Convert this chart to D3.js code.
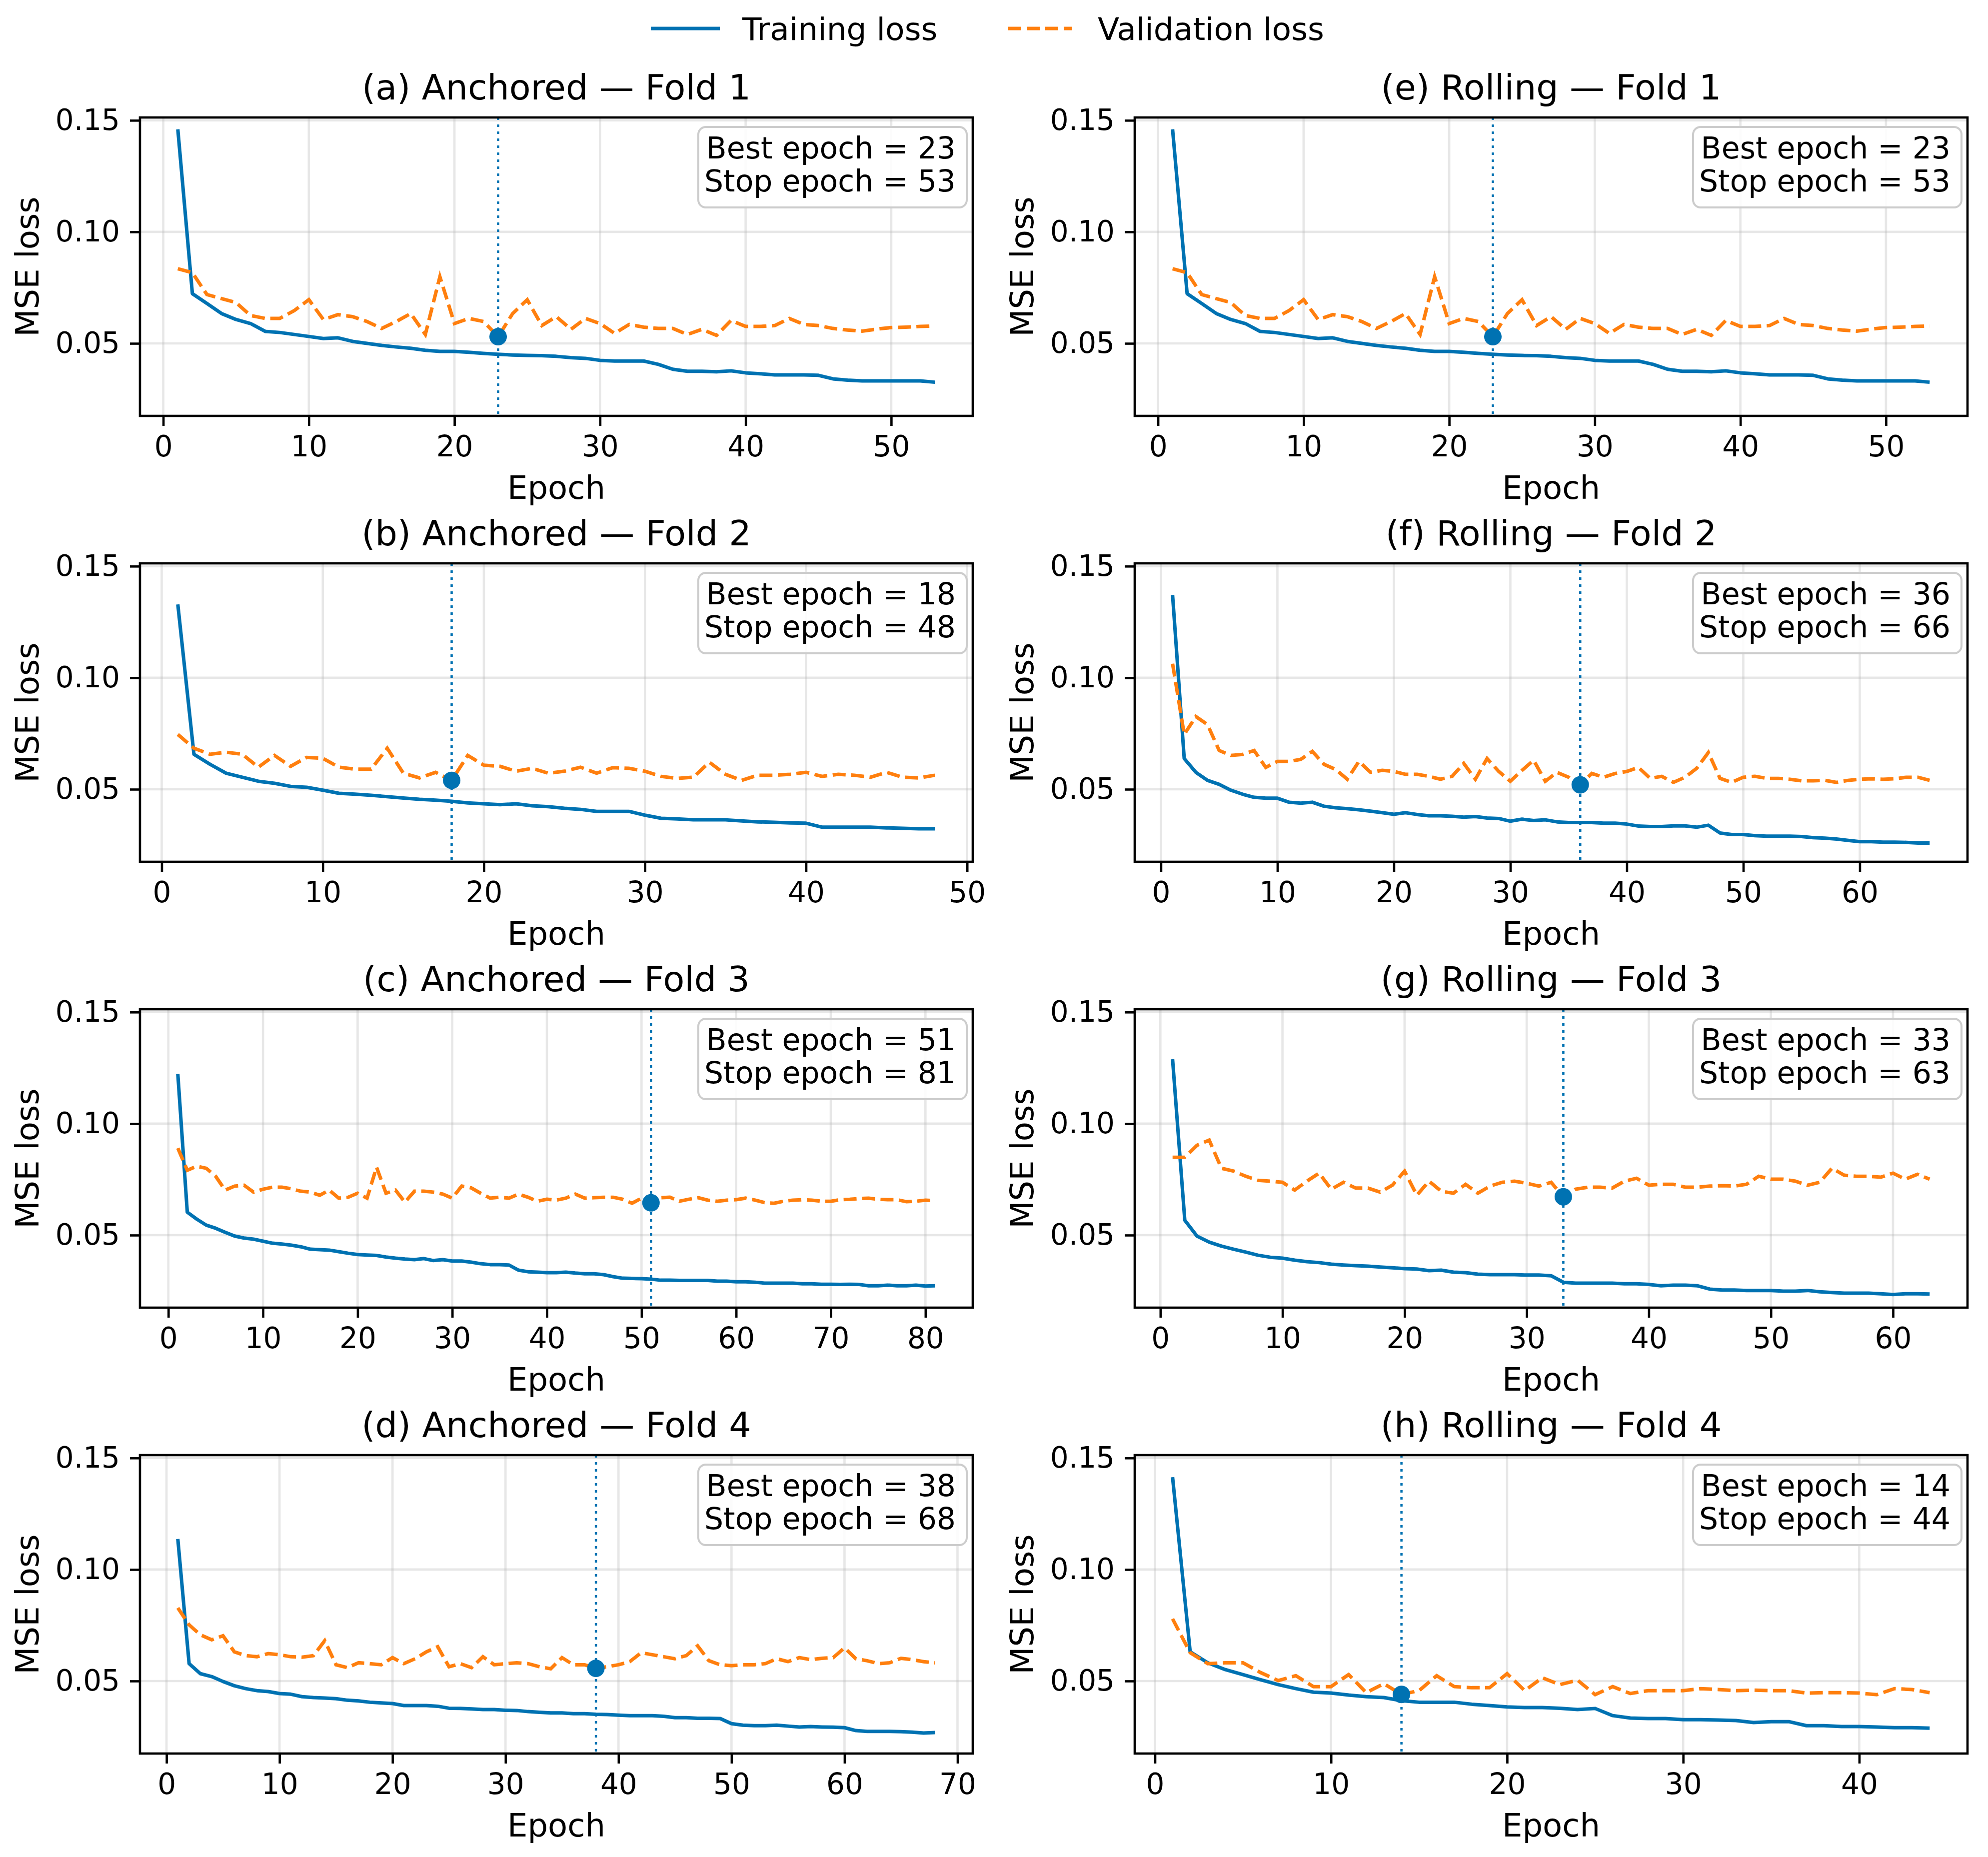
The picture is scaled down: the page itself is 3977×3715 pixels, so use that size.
<!DOCTYPE html>
<html>
<head>
<meta charset="utf-8">
<script src="https://cdn.jsdelivr.net/npm/d3@7"></script>
<style>
  body { margin: 0; background: #fff; }
  text { font-family: "DejaVu Sans", sans-serif; fill: #000; }
</style>
</head>
<body>
<div id="chart"></div>
<script>
// loss curves, one value per epoch starting at epoch 1
const trainA = [0.146,0.0723,0.0679,0.0634,0.0607,0.0589,0.0554,0.0549,0.054,0.0531,
  0.0522,0.0525,0.0509,0.05,0.0491,0.0484,0.0478,0.0469,0.0464,0.0464,
  0.046,0.0455,0.0451,0.0448,0.0446,0.0445,0.0442,0.0436,0.0433,0.0424,
  0.0421,0.0421,0.0421,0.0406,0.0384,0.0375,0.0375,0.0373,0.0377,0.0368,
  0.0364,0.0359,0.0359,0.0359,0.0357,0.0341,0.0335,0.0332,0.0332,0.0332,
  0.0332,0.0332,0.0326]
const valA = [0.0835,0.0817,0.0719,0.0701,0.0683,0.0625,0.0612,0.0612,0.0647,0.0696,
  0.0607,0.0629,0.062,0.0598,0.0567,0.0598,0.0634,0.054,0.0799,0.0589,
  0.0612,0.0598,0.053,0.0634,0.0696,0.058,0.062,0.0563,0.0612,0.0589,
  0.0545,0.0585,0.0573,0.0567,0.0567,0.054,0.0563,0.0536,0.0603,0.0576,
  0.0576,0.058,0.0612,0.0585,0.058,0.0567,0.056,0.0555,0.0564,0.0571,
  0.0573,0.0576,0.0578]

const trainB = [0.1329,0.0657,0.0612,0.0572,0.0554,0.0536,0.0527,0.0513,0.0509,0.0496,
  0.0482,0.0478,0.0473,0.0467,0.0461,0.0455,0.0451,0.0446,0.0439,0.0435,
  0.0431,0.0435,0.0426,0.0422,0.0415,0.041,0.0401,0.0401,0.0401,0.0384,
  0.037,0.0367,0.0363,0.0363,0.0363,0.0358,0.0354,0.0352,0.0349,0.0348,
  0.033,0.033,0.033,0.033,0.0327,0.0325,0.0323,0.0323]
const valB = [0.0746,0.0684,0.0657,0.0666,0.0657,0.0599,0.0652,0.0603,0.0643,0.0639,
  0.0599,0.059,0.059,0.0684,0.0572,0.0551,0.0576,0.054,0.0652,0.0608,
  0.0603,0.0581,0.0594,0.0572,0.0581,0.0599,0.0572,0.0597,0.0594,0.0581,
  0.0558,0.0549,0.0554,0.0621,0.0567,0.054,0.0563,0.0563,0.0567,0.0576,
  0.0558,0.0567,0.0563,0.0554,0.0576,0.0554,0.0551,0.0563]

const trainC = [0.1223,0.0603,0.0572,0.0545,0.0531,0.0513,0.0496,0.0487,0.0482,0.0473,
  0.0464,0.046,0.0455,0.0448,0.0437,0.0435,0.0433,0.0426,0.0419,0.0413,
  0.0411,0.0409,0.0402,0.0397,0.0393,0.039,0.0395,0.0386,0.039,0.0384,
  0.0384,0.0379,0.0372,0.0368,0.0368,0.0366,0.0343,0.0336,0.0334,0.0332,
  0.0332,0.0334,0.033,0.0327,0.0327,0.0323,0.0314,0.0307,0.0306,0.0305,
  0.0303,0.0298,0.0298,0.0297,0.0297,0.0297,0.0297,0.0294,0.0294,0.0291,
  0.0291,0.0289,0.0285,0.0285,0.0285,0.0285,0.0282,0.0282,0.028,0.028,
  0.0279,0.028,0.0279,0.0273,0.0273,0.0276,0.0273,0.0273,0.0276,0.0272,0.0273]
const valC = [0.089,0.0791,0.0809,0.08,0.0764,0.0702,0.072,0.0724,0.0693,0.0706,
  0.0715,0.0715,0.0708,0.0697,0.0693,0.0679,0.0702,0.0666,0.067,0.0688,
  0.0666,0.0805,0.0688,0.0702,0.0648,0.0697,0.0697,0.0693,0.0684,0.0666,
  0.072,0.0712,0.0688,0.0666,0.067,0.0666,0.0684,0.067,0.0652,0.0661,
  0.0657,0.0666,0.0684,0.0666,0.0668,0.067,0.067,0.0661,0.0643,0.0666,
  0.0645,0.0668,0.067,0.0652,0.0661,0.0668,0.0657,0.0652,0.0657,0.0659,
  0.0666,0.0657,0.0646,0.0643,0.0652,0.0657,0.0659,0.0657,0.0652,0.0652,
  0.0659,0.0661,0.0664,0.0666,0.0661,0.0659,0.0659,0.065,0.0652,0.0657,0.0655]

const trainD = [0.1137,0.0578,0.0533,0.052,0.0498,0.0479,0.0466,0.0457,0.0453,0.0444,
  0.0441,0.043,0.0426,0.0424,0.0421,0.0414,0.0411,0.0405,0.0402,0.0399,
  0.039,0.039,0.039,0.0387,0.0378,0.0377,0.0375,0.0372,0.0372,0.0369,
  0.0368,0.0363,0.036,0.0357,0.0357,0.0354,0.0354,0.0351,0.035,0.0347,
  0.0345,0.0345,0.0345,0.0342,0.0336,0.0336,0.0333,0.0333,0.0332,0.0309,
  0.0302,0.03,0.03,0.0302,0.0298,0.0294,0.0296,0.0294,0.0293,0.0291,
  0.0278,0.0274,0.0274,0.0274,0.0273,0.0271,0.0267,0.0269]
const valD = [0.0828,0.0752,0.0707,0.0685,0.0703,0.0631,0.0614,0.0609,0.0623,0.0618,
  0.0609,0.0607,0.0614,0.0681,0.0573,0.056,0.0582,0.0578,0.0573,0.0605,
  0.0578,0.06,0.0631,0.0654,0.0564,0.0578,0.056,0.0609,0.0573,0.0578,
  0.0582,0.0578,0.0564,0.0555,0.0605,0.0573,0.0573,0.0557,0.0564,0.0573,
  0.0587,0.0627,0.0618,0.0609,0.06,0.0614,0.0658,0.0591,0.0573,0.0569,
  0.0573,0.0573,0.0578,0.06,0.0587,0.0605,0.0596,0.0602,0.0605,0.0649,
  0.06,0.0591,0.0578,0.0582,0.0602,0.0596,0.0587,0.0582]

const trainF = [0.1371,0.0638,0.0576,0.054,0.0522,0.0496,0.0478,0.0464,0.046,0.046,
  0.0442,0.0438,0.0442,0.0424,0.0417,0.0413,0.0408,0.0402,0.0395,0.0388,
  0.0395,0.0387,0.0381,0.0381,0.0379,0.0375,0.0378,0.0371,0.0369,0.0357,
  0.0366,0.036,0.0363,0.0354,0.0351,0.0351,0.0351,0.0348,0.0348,0.0344,
  0.0335,0.0333,0.0333,0.0336,0.0336,0.033,0.0339,0.0304,0.0297,0.0297,
  0.0292,0.029,0.029,0.029,0.0288,0.0283,0.0281,0.0277,0.0271,0.0265,
  0.0265,0.0263,0.0263,0.0262,0.0259,0.0259]
const valF = [0.1063,0.0746,0.0826,0.079,0.0674,0.0652,0.0656,0.0674,0.0598,0.0625,
  0.0625,0.0634,0.067,0.0612,0.0589,0.0545,0.0625,0.0576,0.0585,0.058,
  0.0567,0.0567,0.0558,0.0545,0.0558,0.0616,0.0545,0.0638,0.058,0.0536,
  0.0585,0.063,0.0536,0.0576,0.0554,0.052,0.0571,0.0554,0.0571,0.058,
  0.0598,0.0549,0.0558,0.0531,0.0554,0.0594,0.0665,0.0549,0.0531,0.0554,
  0.0558,0.0549,0.0549,0.0545,0.0538,0.0538,0.054,0.0531,0.054,0.0545,
  0.0547,0.0545,0.0547,0.0554,0.0554,0.054]

const trainG = [0.1289,0.0567,0.0496,0.0469,0.0451,0.0437,0.0424,0.041,0.0401,0.0397,
  0.0388,0.0381,0.0377,0.037,0.0366,0.0363,0.0361,0.0357,0.0354,0.035,
  0.0348,0.0341,0.0343,0.0334,0.0332,0.0325,0.0323,0.0323,0.0323,0.0321,
  0.0321,0.0318,0.0289,0.0285,0.0285,0.0285,0.0285,0.0282,0.0282,0.0279,
  0.0273,0.0276,0.0276,0.0273,0.0258,0.0254,0.0254,0.0252,0.0252,0.0252,
  0.0249,0.0249,0.0252,0.0246,0.0243,0.024,0.024,0.024,0.0237,0.0234,
  0.0237,0.0237,0.0236]
const valG = [0.0849,0.0849,0.0903,0.0926,0.08,0.0787,0.0764,0.0746,0.0742,0.0737,
  0.0702,0.0742,0.0778,0.0706,0.0737,0.0711,0.0711,0.0693,0.0724,0.0787,
  0.0679,0.0742,0.0697,0.0688,0.0728,0.0688,0.072,0.0737,0.0742,0.0733,
  0.072,0.0737,0.0672,0.0706,0.0715,0.0715,0.0711,0.0742,0.0755,0.0724,
  0.0728,0.0728,0.0715,0.0715,0.072,0.0722,0.072,0.0728,0.0764,0.0751,
  0.0751,0.0742,0.0724,0.0737,0.08,0.0769,0.0764,0.0764,0.076,0.0778,
  0.0751,0.0773,0.0751]

const trainH = [0.1414,0.0631,0.0582,0.0551,0.0529,0.0506,0.0484,0.0466,0.045,0.0446,
  0.0437,0.043,0.0426,0.0412,0.0405,0.0405,0.0405,0.0396,0.039,0.0384,
  0.0381,0.0381,0.0378,0.0372,0.0377,0.0345,0.0334,0.0332,0.0332,0.0327,
  0.0327,0.0325,0.0323,0.0314,0.0318,0.0318,0.03,0.03,0.0296,0.0296,
  0.0294,0.0291,0.0291,0.0289]
const valH = [0.0779,0.0627,0.0578,0.0582,0.0582,0.0538,0.0502,0.0524,0.0475,0.0475,
  0.0529,0.0448,0.0488,0.044,0.0457,0.0524,0.0475,0.047,0.047,0.0533,
  0.0457,0.0515,0.0484,0.0504,0.0439,0.0475,0.0444,0.0457,0.0457,0.0457,
  0.0466,0.0462,0.0457,0.0459,0.0457,0.0457,0.0446,0.0448,0.0448,0.0446,
  0.0439,0.0466,0.0462,0.0448]

// panel titles, best / stop epochs and x tick labels
const titles = ['(a) Anchored \u2014 Fold 1', '(b) Anchored \u2014 Fold 2', '(c) Anchored \u2014 Fold 3', '(d) Anchored \u2014 Fold 4',
  '(e) Rolling \u2014 Fold 1', '(f) Rolling \u2014 Fold 2', '(g) Rolling \u2014 Fold 3', '(h) Rolling \u2014 Fold 4']
const bestEpochs = [23, 18, 51, 38, 23, 36, 33, 14]
const stopEpochs = [53, 48, 81, 68, 53, 66, 63, 44]
const xTicks = [
  [0, 10, 20, 30, 40, 50], [0, 10, 20, 30, 40, 50], [0, 10, 20, 30, 40, 50, 60, 70, 80], [0, 10, 20, 30, 40, 50, 60, 70],
  [0, 10, 20, 30, 40, 50], [0, 10, 20, 30, 40, 50, 60], [0, 10, 20, 30, 40, 50, 60], [0, 10, 20, 30, 40]
]
const yTicks = [0.05, 0.10, 0.15]
const seriesNames = ['Training loss', 'Validation loss']

const trainSeries = [trainA, trainB, trainC, trainD, trainA, trainF, trainG, trainH]
const valSeries = [valA, valB, valC, valD, valA, valF, valG, valH]

const blue = '#0072b2'
const orange = '#ff7f0e'
const dash = '26,11'

const width = 3977
const height = 3715

// grid of axes: two columns, four rows
const colLeft = [280, 2270]
const rowTop = [235, 1127, 2019, 2911]
const axW = 1666
const axH = 597
const yDomain = [0.0175, 0.1513]

const svg = d3.select('#chart')
  .append('svg')
  .attr('width', width)
  .attr('height', height)

svg.append('rect')
  .attr('width', width)
  .attr('height', height)
  .attr('fill', '#fff')

// figure legend on top
const legend = svg.append('g')
legend.append('line')
  .attr('x1', 1302).attr('x2', 1440).attr('y1', 57).attr('y2', 57)
  .attr('stroke', blue).attr('stroke-width', 7)
legend.append('text')
  .attr('x', 1485).attr('y', 80)
  .attr('font-size', 63)
  .text(seriesNames[0])
legend.append('line')
  .attr('x1', 2017).attr('x2', 2144).attr('y1', 57).attr('y2', 57)
  .attr('stroke', orange).attr('stroke-width', 7)
  .attr('stroke-dasharray', dash)
legend.append('text')
  .attr('x', 2196).attr('y', 80)
  .attr('font-size', 63)
  .text(seriesNames[1])

const drawPanel = (i) => {
  const col = Math.floor(i / 4)
  const row = i % 4
  const train = trainSeries[i]
  const val = valSeries[i]
  const n = train.length
  const best = bestEpochs[i]

  const g = svg.append('g')
    .attr('transform', `translate(${colLeft[col]},${rowTop[row]})`)

  // matplotlib style 5% margin on x
  const pad = 0.05 * (n - 1)
  const x = d3.scaleLinear().domain([1 - pad, n + pad]).range([0, axW])
  const y = d3.scaleLinear().domain(yDomain).range([axH, 0])

  // grid lines
  g.selectAll('.xgrid')
    .data(xTicks[i])
    .enter().append('line')
    .attr('x1', d => x(d)).attr('x2', d => x(d))
    .attr('y1', 0).attr('y2', axH)
    .attr('stroke', '#b0b0b0').attr('stroke-opacity', 0.3).attr('stroke-width', 4.6)
  g.selectAll('.ygrid')
    .data(yTicks)
    .enter().append('line')
    .attr('x1', 0).attr('x2', axW)
    .attr('y1', d => y(d)).attr('y2', d => y(d))
    .attr('stroke', '#b0b0b0').attr('stroke-opacity', 0.3).attr('stroke-width', 4.6)

  const line = d3.line()
    .x((d, k) => x(k + 1))
    .y(d => y(d))

  g.append('path')
    .datum(train)
    .attr('d', line)
    .attr('fill', 'none')
    .attr('stroke', blue)
    .attr('stroke-width', 7)
    .attr('stroke-linejoin', 'round')

  g.append('path')
    .datum(val)
    .attr('d', line)
    .attr('fill', 'none')
    .attr('stroke', orange)
    .attr('stroke-width', 7)
    .attr('stroke-dasharray', dash)

  // best epoch marker
  g.append('line')
    .attr('x1', x(best)).attr('x2', x(best))
    .attr('y1', 0).attr('y2', axH)
    .attr('stroke', blue)
    .attr('stroke-width', 4.5)
    .attr('stroke-dasharray', '5,9')

  g.append('circle')
    .attr('cx', x(best))
    .attr('cy', y(val[best - 1]))
    .attr('r', 17.5)
    .attr('fill', blue)

  // axes
  const xAxis = g.append('g')
    .attr('transform', `translate(0,${axH})`)
    .call(d3.axisBottom(x).tickValues(xTicks[i]).tickSize(20).tickPadding(20).tickSizeOuter(0))
  const yAxis = g.append('g')
    .call(d3.axisLeft(y).tickValues(yTicks).tickFormat(d3.format('.2f')).tickSize(20).tickPadding(20).tickSizeOuter(0))

  ;[xAxis, yAxis].forEach(a => {
    a.select('.domain').remove()
    a.selectAll('.tick line').attr('stroke', '#000').attr('stroke-width', 4.6)
    a.selectAll('.tick text')
      .attr('font-size', 58)
      .attr('font-family', '"DejaVu Sans", sans-serif')
      .attr('fill', '#000')
  })

  g.append('rect')
    .attr('width', axW)
    .attr('height', axH)
    .attr('fill', 'none')
    .attr('stroke', '#000')
    .attr('stroke-width', 4.6)

  // best / stop box
  g.append('rect')
    .attr('x', axW - 12 - 537)
    .attr('y', 19)
    .attr('width', 537)
    .attr('height', 161)
    .attr('rx', 15)
    .attr('fill', '#fff')
    .attr('fill-opacity', 0.85)
    .attr('stroke', '#cccccc')
    .attr('stroke-width', 4)

  g.append('text')
    .attr('x', axW - 34).attr('y', 82)
    .attr('text-anchor', 'end')
    .attr('font-size', 60)
    .text(`Best epoch = ${best}`)
  g.append('text')
    .attr('x', axW - 34).attr('y', 148)
    .attr('text-anchor', 'end')
    .attr('font-size', 60)
    .text(`Stop epoch = ${stopEpochs[i]}`)

  // labels and title
  g.append('text')
    .attr('x', axW / 2).attr('y', axH + 166)
    .attr('text-anchor', 'middle')
    .attr('font-size', 64)
    .text('Epoch')

  g.append('text')
    .attr('transform', `translate(-203,${axH / 2}) rotate(-90)`)
    .attr('text-anchor', 'middle')
    .attr('font-size', 64)
    .text('MSE loss')

  g.append('text')
    .attr('x', axW / 2).attr('y', -36)
    .attr('text-anchor', 'middle')
    .attr('font-size', 70)
    .text(titles[i])
}

d3.range(8).forEach(drawPanel)
</script>
</body>
</html>
